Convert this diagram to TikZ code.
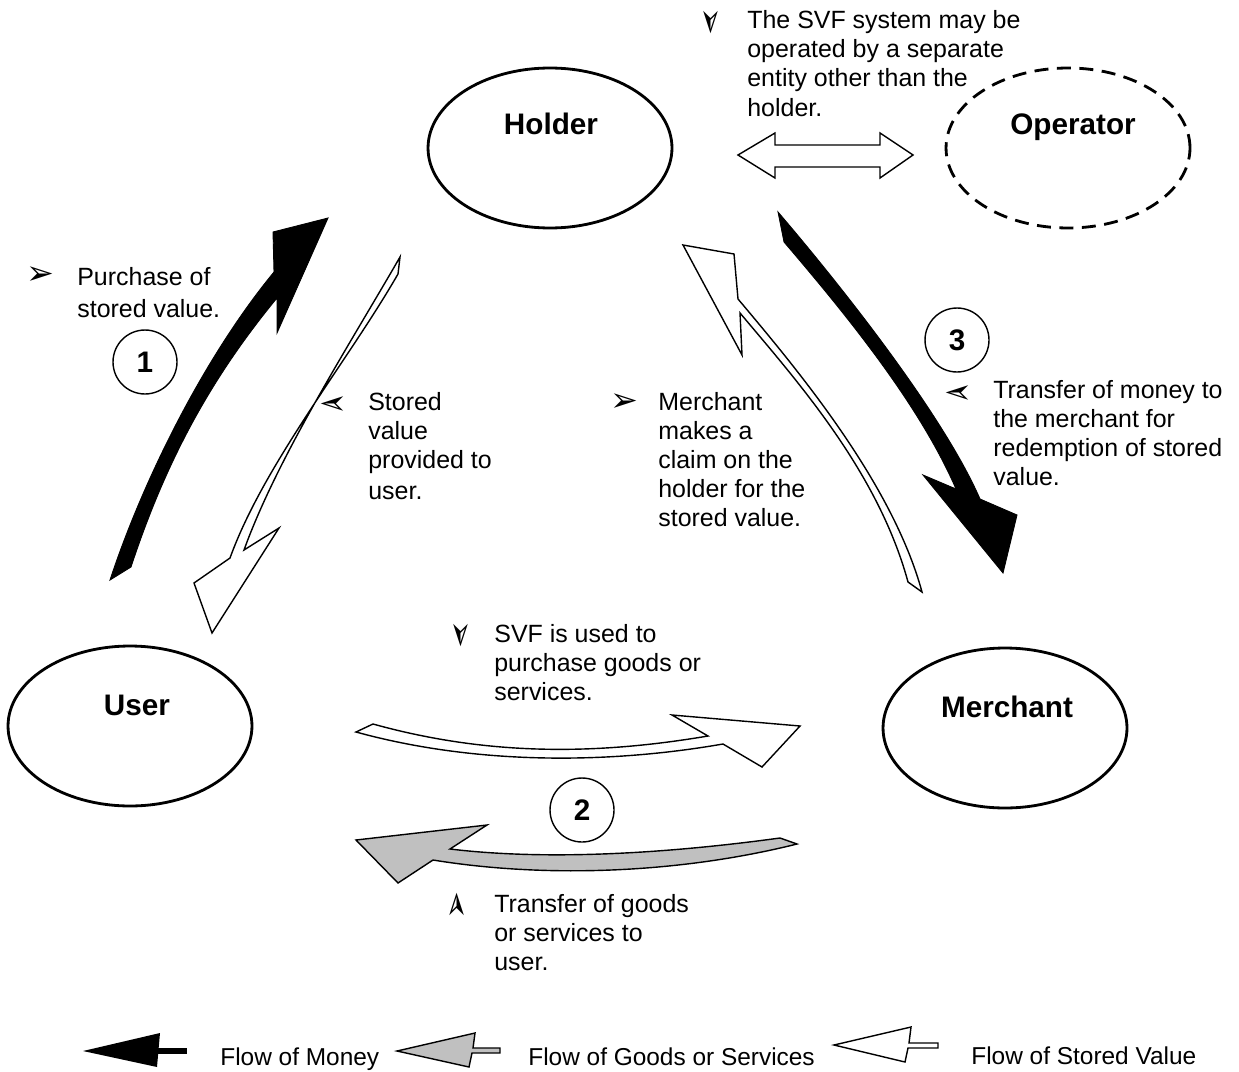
\documentclass[tikz,border=0pt]{standalone}
\usepackage{fontspec}
\setmainfont{Liberation Sans}
\newfontfamily\symfont{DejaVu Sans}
\usetikzlibrary{calc,shapes.geometric}
\definecolor{goodsgray}{RGB}{192,192,192}
% curved block arrow: #1 style, #2 prefix, #3/#4 start/end handles of p-edge, #5/#6 of q-edge
\newcommand{\blockarrow}[6]{%
  \draw[#1] (#2p0) .. controls ($(#2p0)+#3$) and ($(#2p3)+#4$) .. (#2p3)
    -- (#2pb) -- (#2tip) -- (#2qb) -- (#2q3)
    .. controls ($(#2q3)+#6$) and ($(#2q0)+#5$) .. (#2q0) -- cycle;}
\begin{document}
\begin{tikzpicture}[x=0.02cm,y=-0.02cm,
  txt/.style={anchor=base west, align=left, inner sep=0pt, font=\fontsize{14.2pt}{16.5pt}\selectfont},
  lgd/.style={anchor=base west, inner sep=0pt, font=\fontsize{13.9pt}{16pt}\selectfont},
  lbl/.style={anchor=base, inner sep=0pt, font=\fontsize{16.9pt}{20pt}\selectfont\bfseries},
  ent/.style={draw, ellipse, line width=1.6pt, minimum width=4.88cm, minimum height=3.2cm, inner sep=0pt},
  numc/.style={draw, circle, line width=0.8pt, minimum size=1.28cm, inner sep=0pt, font=\fontsize{16.9pt}{20pt}\selectfont\bfseries},
  bul/.style={inner sep=0pt, font=\symfont\fontsize{19pt}{19pt}\selectfont},
  money/.style={fill=black, draw=black, line width=0.5pt},
  stored/.style={fill=white, draw=black, line width=0.8pt},
  goods/.style={fill=goodsgray, draw=black, line width=0.8pt},
]
\useasboundingbox[fill=white] (0,0) rectangle (1239,1071);

% entities
\node[ent] (holder) at (550,148) {};
\node[ent, dashed, dash pattern=on 0.28cm off 0.17cm] (operator) at (1068,148) {};
\node[ent] (user) at (130,726) {};
\node[ent] (merchant) at (1005,728) {};
\node[lbl] (holdert) at (551,135) {Holder};
\node[lbl] (operatort) at (1073,135) {Operator};
\node[lbl] (usert) at (137,715) {User};
\node[lbl] (merchantt) at (1007,717) {Merchant};

% double arrow holder <-> operator
\coordinate (dl) at (738,155);
\coordinate (dr) at (913,155);
\draw[stored] (dl) -- (775,133) -- (775,145) -- (880,145) -- (880,133) -- (dr)
  -- (880,178) -- (880,167) -- (775,167) -- (775,178) -- cycle;

% arrow 1: money user -> holder
\coordinate (m1p0) at (110,580); \coordinate (m1p3) at (274,272);
\coordinate (m1pb) at (273,232); \coordinate (m1tip) at (328,218);
\coordinate (m1qb) at (277,333); \coordinate (m1q3) at (277,298);
\coordinate (m1q0) at (131,567);
\blockarrow{money}{m1}{(33,-100)}{(-70,85)}{(33,-100)}{(-70,85)}

% stored value holder -> user
\coordinate (s1p0) at (400,257); \coordinate (s1p3) at (244,550);
\coordinate (s1pb) at (279,528); \coordinate (s1tip) at (212,633);
\coordinate (s1qb) at (194,583); \coordinate (s1q3) at (230,558);
\coordinate (s1q0) at (398,274);
\blockarrow{stored}{s1}{(-50,87)}{(34,-94)}{(-50,87)}{(34,-94)}

% claim merchant -> holder
\coordinate (c1p0) at (908,582); \coordinate (c1p3) at (740,313);
\coordinate (c1pb) at (742,355); \coordinate (c1tip) at (683,245);
\coordinate (c1qb) at (734,254); \coordinate (c1q3) at (738,299);
\coordinate (c1q0) at (922,592);
\blockarrow{stored}{c1}{(-30,-110)}{(58,69)}{(-30,-110)}{(58,69)}

% arrow 3: money holder -> merchant
\coordinate (m3p0) at (778,212); \coordinate (m3p3) at (980,499);
\coordinate (m3pb) at (1017,515); \coordinate (m3tip) at (1003,573);
\coordinate (m3qb) at (923,475); \coordinate (m3q3) at (956,489);
\coordinate (m3q0) at (784,242);
\blockarrow{money}{m3}{(65,76)}{(-36,-83)}{(65,76)}{(-36,-83)}

% SVF used user -> merchant
\coordinate (s2p0) at (373,724); \coordinate (s2p3) at (708,736);
\coordinate (s2pb) at (672,715); \coordinate (s2tip) at (800,726);
\coordinate (s2qb) at (762,767); \coordinate (s2q3) at (723,744);
\coordinate (s2q0) at (356,732);
\blockarrow{stored}{s2}{(115,32)}{(-112,19)}{(120,33)}{(-115,20)}

% goods merchant -> user
\coordinate (g2p0) at (780,838); \coordinate (g2p3) at (450,849);
\coordinate (g2pb) at (487,825); \coordinate (g2tip) at (356,840);
\coordinate (g2qb) at (398,883); \coordinate (g2q3) at (433,860);
\coordinate (g2q0) at (797,844);
\blockarrow{goods}{g2}{(-110,15)}{(100,12)}{(-120,30)}{(110,18)}

% numbers
\node[numc] (n1) at (145,362) {1};
\node[numc] (n2) at (582,810) {2};
\node[numc] (n3) at (957,340) {3};

% texts and bullets (anchor = baseline of the last line)
\node[bul] (b1) at (40,276) {➢};
\node[txt] (t1) at (77,317) {Purchase of\\[0.06cm]stored value.};
\node[bul, rotate=180] (b2) at (334,402) {➢};
\node[txt] (t2) at (368,499) {Stored\\value\\provided to\\[0.04cm]user.};
\node[bul] (b3) at (624,403) {➢};
\node[txt] (t3) at (658,526) {Merchant\\makes a\\claim on the\\holder for the\\stored value.};
\node[bul, rotate=180] (b4) at (958,391) {➢};
\node[txt] (t4) at (993,485) {Transfer of money to\\the merchant for\\redemption of stored\\value.};
\node[bul, rotate=-90] (b5) at (709,21) {➢};
\node[txt] (t5) at (747,117) {The SVF system may be\\operated by a separate\\entity other than the\\[0.04cm]holder.};
\node[bul, rotate=-90] (b6) at (459,634) {➢};
\node[txt] (t6) at (494,700) {SVF is used to\\purchase goods or\\services.};
\node[bul, rotate=90] (b7) at (459,905) {➢};
\node[txt] (t7) at (494,970) {Transfer of goods\\or services to\\user.};

% legend
\coordinate (lm) at (83,1051);
\fill (lm) -- (160,1033) -- (157,1067) -- cycle;
\fill (157,1048) rectangle (187,1054);
\node[lgd] (lmt) at (220,1065) {Flow of Money};
\coordinate (lg) at (397,1051);
\draw[goods] (lg) -- (475,1033) -- (473,1048) -- (500,1048) -- (500,1053) -- (472,1053) -- (469,1067) -- cycle;
\node[lgd] (lgt) at (528,1065) {Flow of Goods or Services};
\coordinate (ls) at (834,1045);
\draw[stored] (ls) -- (911,1027) -- (909,1043) -- (938,1043) -- (938,1048) -- (908,1048) -- (905,1062) -- cycle;
\node[lgd] (lst) at (971,1064) {Flow of Stored Value};
\end{tikzpicture}
\end{document}
